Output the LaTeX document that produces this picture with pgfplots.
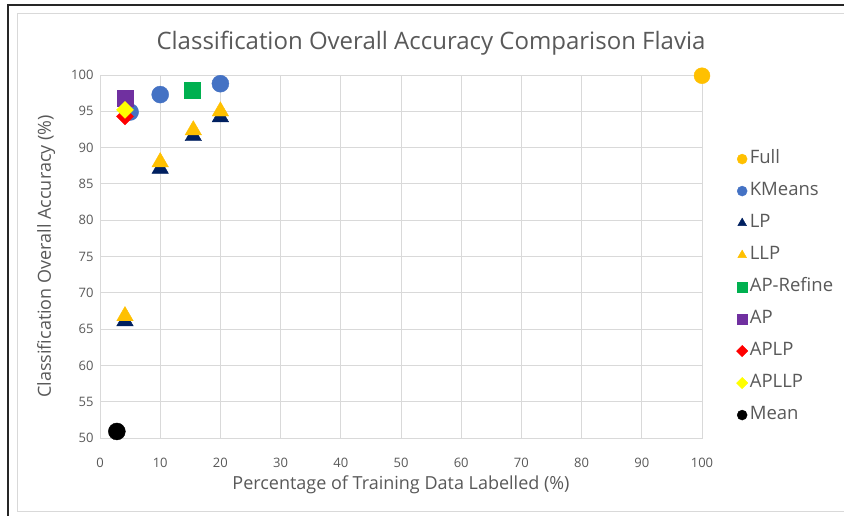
\documentclass[border=0pt]{standalone}
\usepackage{pgfplots}
\pgfplotsset{compat=1.18}
\usepackage{fontspec}
\setmainfont[Ligatures={NoCommon}]{Open Sans}
\definecolor{txt}{HTML}{595959}
\definecolor{gridc}{HTML}{D9D9D9}
\definecolor{cfull}{HTML}{FFC000}
\definecolor{ckm}{HTML}{4472C4}
\definecolor{clp}{HTML}{002060}
\definecolor{cllp}{HTML}{FFC000}
\definecolor{capr}{HTML}{00B050}
\definecolor{cap}{HTML}{7030A0}
\definecolor{caplp}{HTML}{FF0000}
\definecolor{capllp}{HTML}{FFFF00}
\begin{document}
\begin{tikzpicture}[x=1pt,y=1pt]
\useasboundingbox (0,0) rectangle (844,516);
\fill[white] (0,0) rectangle (844,516);
\draw[black!85, line width=1.2pt] (8,0) -- (8,511) -- (844,511);
\draw[gridc, line width=1pt] (17,4) -- (17,502) -- (844,502);
\draw[gridc, line width=1pt] (17,4) -- (844,4);
\begin{axis}[
  at={(100pt,78pt)}, anchor=south west,
  scale only axis, width=602pt, height=363pt,
  xmin=0, xmax=100, ymin=50, ymax=100,
  xtick={0,10,...,100}, ytick={50,55,...,100},
  grid=major, major grid style={gridc, line width=0.9pt},
  axis line style={gridc, line width=0.9pt},
  tick style={draw=none},
  /pgf/number format/assume math mode=true,
  ticklabel style={font=\fontsize{13}{15}\selectfont, text=txt},
  xticklabel style={yshift=-17pt},
  yticklabel style={xshift=-3pt},
  title={Classification Overall Accuracy Comparison Flavia},
  title style={font=\fontsize{24}{28}\selectfont, text=txt, at={(0.5,1)}, yshift=10pt, xshift=30pt},
  xlabel={Percentage of Training Data Labelled (\%)},
  ylabel={Classification Overall Accuracy (\%)},
  label style={font=\fontsize{18}{21}\selectfont, text=txt},
  xlabel style={yshift=-1pt},
  ylabel style={yshift=9pt},
  legend style={at={(1.052,0.802)}, anchor=north west, draw=none, fill=none,
    font=\fontsize{18.5}{21}\selectfont, text=txt, row sep=12pt,
    nodes={text height=12pt, text depth=4pt, inner sep=2pt},
    legend cell align=left},
  legend image code/.code={\draw[mark size=5pt] plot coordinates {(0.1cm,0cm)};},
  clip=false,
]
\addplot[only marks, mark=*, mark size=8pt, color=cfull] coordinates {(100,99.9)};
\addlegendentry{Full}
\addplot[only marks, mark=*, mark size=8.5pt, color=ckm] coordinates {(5,94.9) (10,97.3) (20,98.8)};
\addlegendentry{KMeans}
\addplot[only marks, mark=triangle*, mark size=9.5pt, color=clp] coordinates {(4.15,66.1) (10,87.1) (15.5,91.6) (20,94.2)};
\addlegendentry{LP}
\addplot[only marks, mark=triangle*, mark size=9.5pt, color=cllp] coordinates {(4.15,66.8) (10,88.0) (15.5,92.4) (20,95.0)};
\addlegendentry{LLP}
\addplot[only marks, mark=square*, mark size=8pt, color=capr] coordinates {(15.3,97.9)};
\addlegendentry{AP-Refine}
\addplot[only marks, mark=square*, mark size=8pt, color=cap] coordinates {(4.15,96.8)};
\addlegendentry{AP}
\addplot[only marks, mark=square*, mark size=6pt, mark options={rotate=45}, color=caplp,
  legend image code/.code={\draw[mark size=4pt] plot coordinates {(0.1cm,0cm)};}] coordinates {(4.15,94.3)};
\addlegendentry{APLP}
\addplot[only marks, mark=square*, mark size=6pt, mark options={rotate=45}, color=capllp,
  legend image code/.code={\draw[mark size=4pt] plot coordinates {(0.1cm,0cm)};}] coordinates {(4.15,95.2)};
\addlegendentry{APLLP}
\addplot[only marks, mark=*, mark size=8.5pt, color=black] coordinates {(2.8,50.9)};
\addlegendentry{Mean}
\end{axis}
\end{tikzpicture}
\end{document}
